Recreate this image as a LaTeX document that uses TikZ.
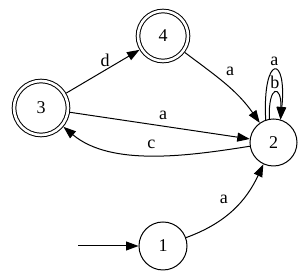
\documentclass[tikz,border=0pt]{standalone}
\usepackage{fontspec}
\setmainfont{Liberation Serif}
\usetikzlibrary{arrows.meta}
\begin{document}
\begin{tikzpicture}[x=1pt,y=1pt,
  >={Triangle[length=12.5pt,width=9pt]},
  every path/.style={line width=1pt},
  state/.style={circle,draw,line width=1pt,inner sep=0pt,font=\fontsize{18}{21}\selectfont},
  accept/.style={state,double,double distance=2.6pt,outer sep=2.3pt},
  lbl/.style={font=\fontsize{18}{21}\selectfont,inner sep=0pt}]
\useasboundingbox (0,0) rectangle (303,275);
\node[accept,minimum size=54pt] (3) at (41,167) {3};
\node[accept,minimum size=50pt] (4) at (163,239) {4};
\node[state,minimum size=47pt] (2) at (273.5,132.5) {2};
\node[state,minimum size=48pt] (1) at (163,29) {1};
\coordinate (s) at (78,29);
\draw[->] (s) -- (1);
\draw[->] (1) to[out=20,in=-115] node[lbl,pos=0.5,xshift=-9pt,yshift=10pt] {a} (2);
\draw[->] (3) -- node[lbl,pos=0.53,yshift=10pt] {d} (4);
\draw[->] (4) to[out=-37,in=125] node[lbl,pos=0.45,xshift=8pt,yshift=10pt] {a} (2);
\draw[->] (3) -- node[lbl,pos=0.518,yshift=11pt] {a} (2);
\draw[->] (2) to[out=189,in=-40,looseness=0.85] node[lbl,pos=0.5,yshift=11pt] {c} (3);
\draw[->] (2.109) .. controls +(93:66) and +(84:66) .. (2.73) node[lbl,pos=0.5,above=4pt] {a};
\draw[->] (2.100) .. controls +(92:35) and +(88:35) .. (2.73) node[lbl,pos=0.5,above=4pt] {b};
\end{tikzpicture}
\end{document}
